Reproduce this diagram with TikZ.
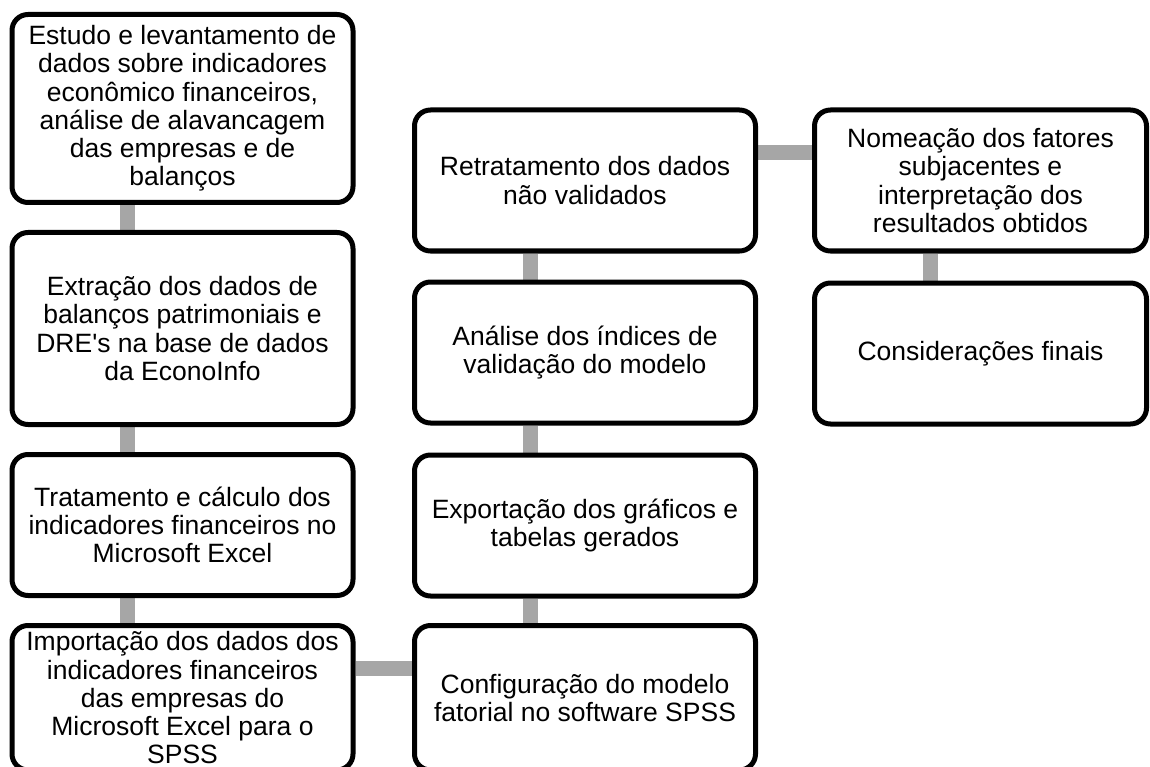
\documentclass[tikz,border=0pt]{standalone}
\usepackage{fontspec}
\setmainfont{Liberation Sans}[Ligatures=TeXOff]
\usepackage{tikz}
\usetikzlibrary{calc}
\usetikzlibrary{backgrounds}

\definecolor{linkgray}{RGB}{166,166,166}

\begin{document}
\begin{tikzpicture}[x=1pt, y=-1pt,
	stepbox/.style={draw=black, line width=5pt, rounded corners=16pt, fill=white, align=center, inner sep=0pt, font=\fontsize{26.5}{28.2}\selectfont},
	link/.style={draw=linkgray, line width=15pt}]


	% canvas
	\useasboundingbox (0,0) rectangle (1150,767);

	% columns
	\def \colOne {182.5};
	\def \colTwo {585};
	\def \colThree {980.5};
	\def \boxWidth {341pt};
	\def \lastWidth {332pt};
	\def \rowHeight {141pt};
	\def \bottomHeight {144.5pt};

	% first column
	\node [stepbox, minimum width=\boxWidth, minimum height=188pt] (estudo) at (\colOne,108.5) {Estudo e levantamento de\\dados sobre indicadores\\econômico financeiros,\\análise de alavancagem\\das empresas e de\\balanços};
	\node [stepbox, minimum width=\boxWidth, minimum height=192pt] (extracao) at (\colOne,328.5) {Extração dos dados de\\balanços patrimoniais e\\DRE's na base de dados\\da EconoInfo};
	\node [stepbox, minimum width=\boxWidth, minimum height=\rowHeight] (tratamento) at (\colOne,525) {Tratamento e cálculo dos\\indicadores financeiros no\\Microsoft Excel};
	\node [stepbox, minimum width=\boxWidth, minimum height=\bottomHeight] (importacao) at (\colOne,697.75) {Importação dos dados dos\\indicadores financeiros\\das empresas do\\Microsoft Excel para o\\SPSS};

	% second column, read upwards
	\node [stepbox, minimum width=\boxWidth, minimum height=\bottomHeight] (configuracao) at (\colTwo,697.75) {Configuração do modelo\\fatorial no software SPSS};
	\node [stepbox, minimum width=\boxWidth, minimum height=\rowHeight] (exportacao) at (\colTwo,525.5) {Exportação dos gráficos e\\tabelas gerados};
	\node [stepbox, minimum width=\boxWidth, minimum height=\rowHeight] (analise) at (\colTwo,352.5) {Análise dos índices de\\validação do modelo};
	\node [stepbox, minimum width=\boxWidth, minimum height=\rowHeight] (retratamento) at (\colTwo,180.5) {Retratamento dos dados\\não validados};

	% third column
	\node [stepbox, minimum width=\lastWidth, minimum height=\rowHeight] (nomeacao) at (\colThree,180.5) {Nomeação dos fatores\\subjacentes e\\interpretação dos\\resultados obtidos};
	\node [stepbox, minimum width=\lastWidth, minimum height=\rowHeight] (consideracoes) at (\colThree,353.5) {Considerações finais};

	% gray links behind the boxes
	\def \linkShift {118pt};
	\def \linkDrop {45pt};
	\begin{pgfonlayer}{background}
	\draw [link] ([xshift=\linkShift]estudo.south west) -- ([xshift=\linkShift]extracao.north west);
	\draw [link] ([xshift=\linkShift]extracao.south west) -- ([xshift=\linkShift]tratamento.north west);
	\draw [link] ([xshift=\linkShift]tratamento.south west) -- ([xshift=\linkShift]importacao.north west);
	\draw [link] ([yshift=-\linkDrop]importacao.north east) -- ([yshift=-\linkDrop]configuracao.north west);
	\draw [link] ([xshift=\linkShift]configuracao.north west) -- ([xshift=\linkShift]exportacao.south west);
	\draw [link] ([xshift=\linkShift]exportacao.north west) -- ([xshift=\linkShift]analise.south west);
	\draw [link] ([xshift=\linkShift]analise.north west) -- ([xshift=\linkShift]retratamento.south west);
	\draw [link] ([yshift=-\linkDrop]retratamento.north east) -- ([yshift=-\linkDrop]nomeacao.north west);
	\draw [link] ([xshift=\linkShift]nomeacao.south west) -- ([xshift=\linkShift]consideracoes.north west);
	\end{pgfonlayer}

\end{tikzpicture}
\end{document}
